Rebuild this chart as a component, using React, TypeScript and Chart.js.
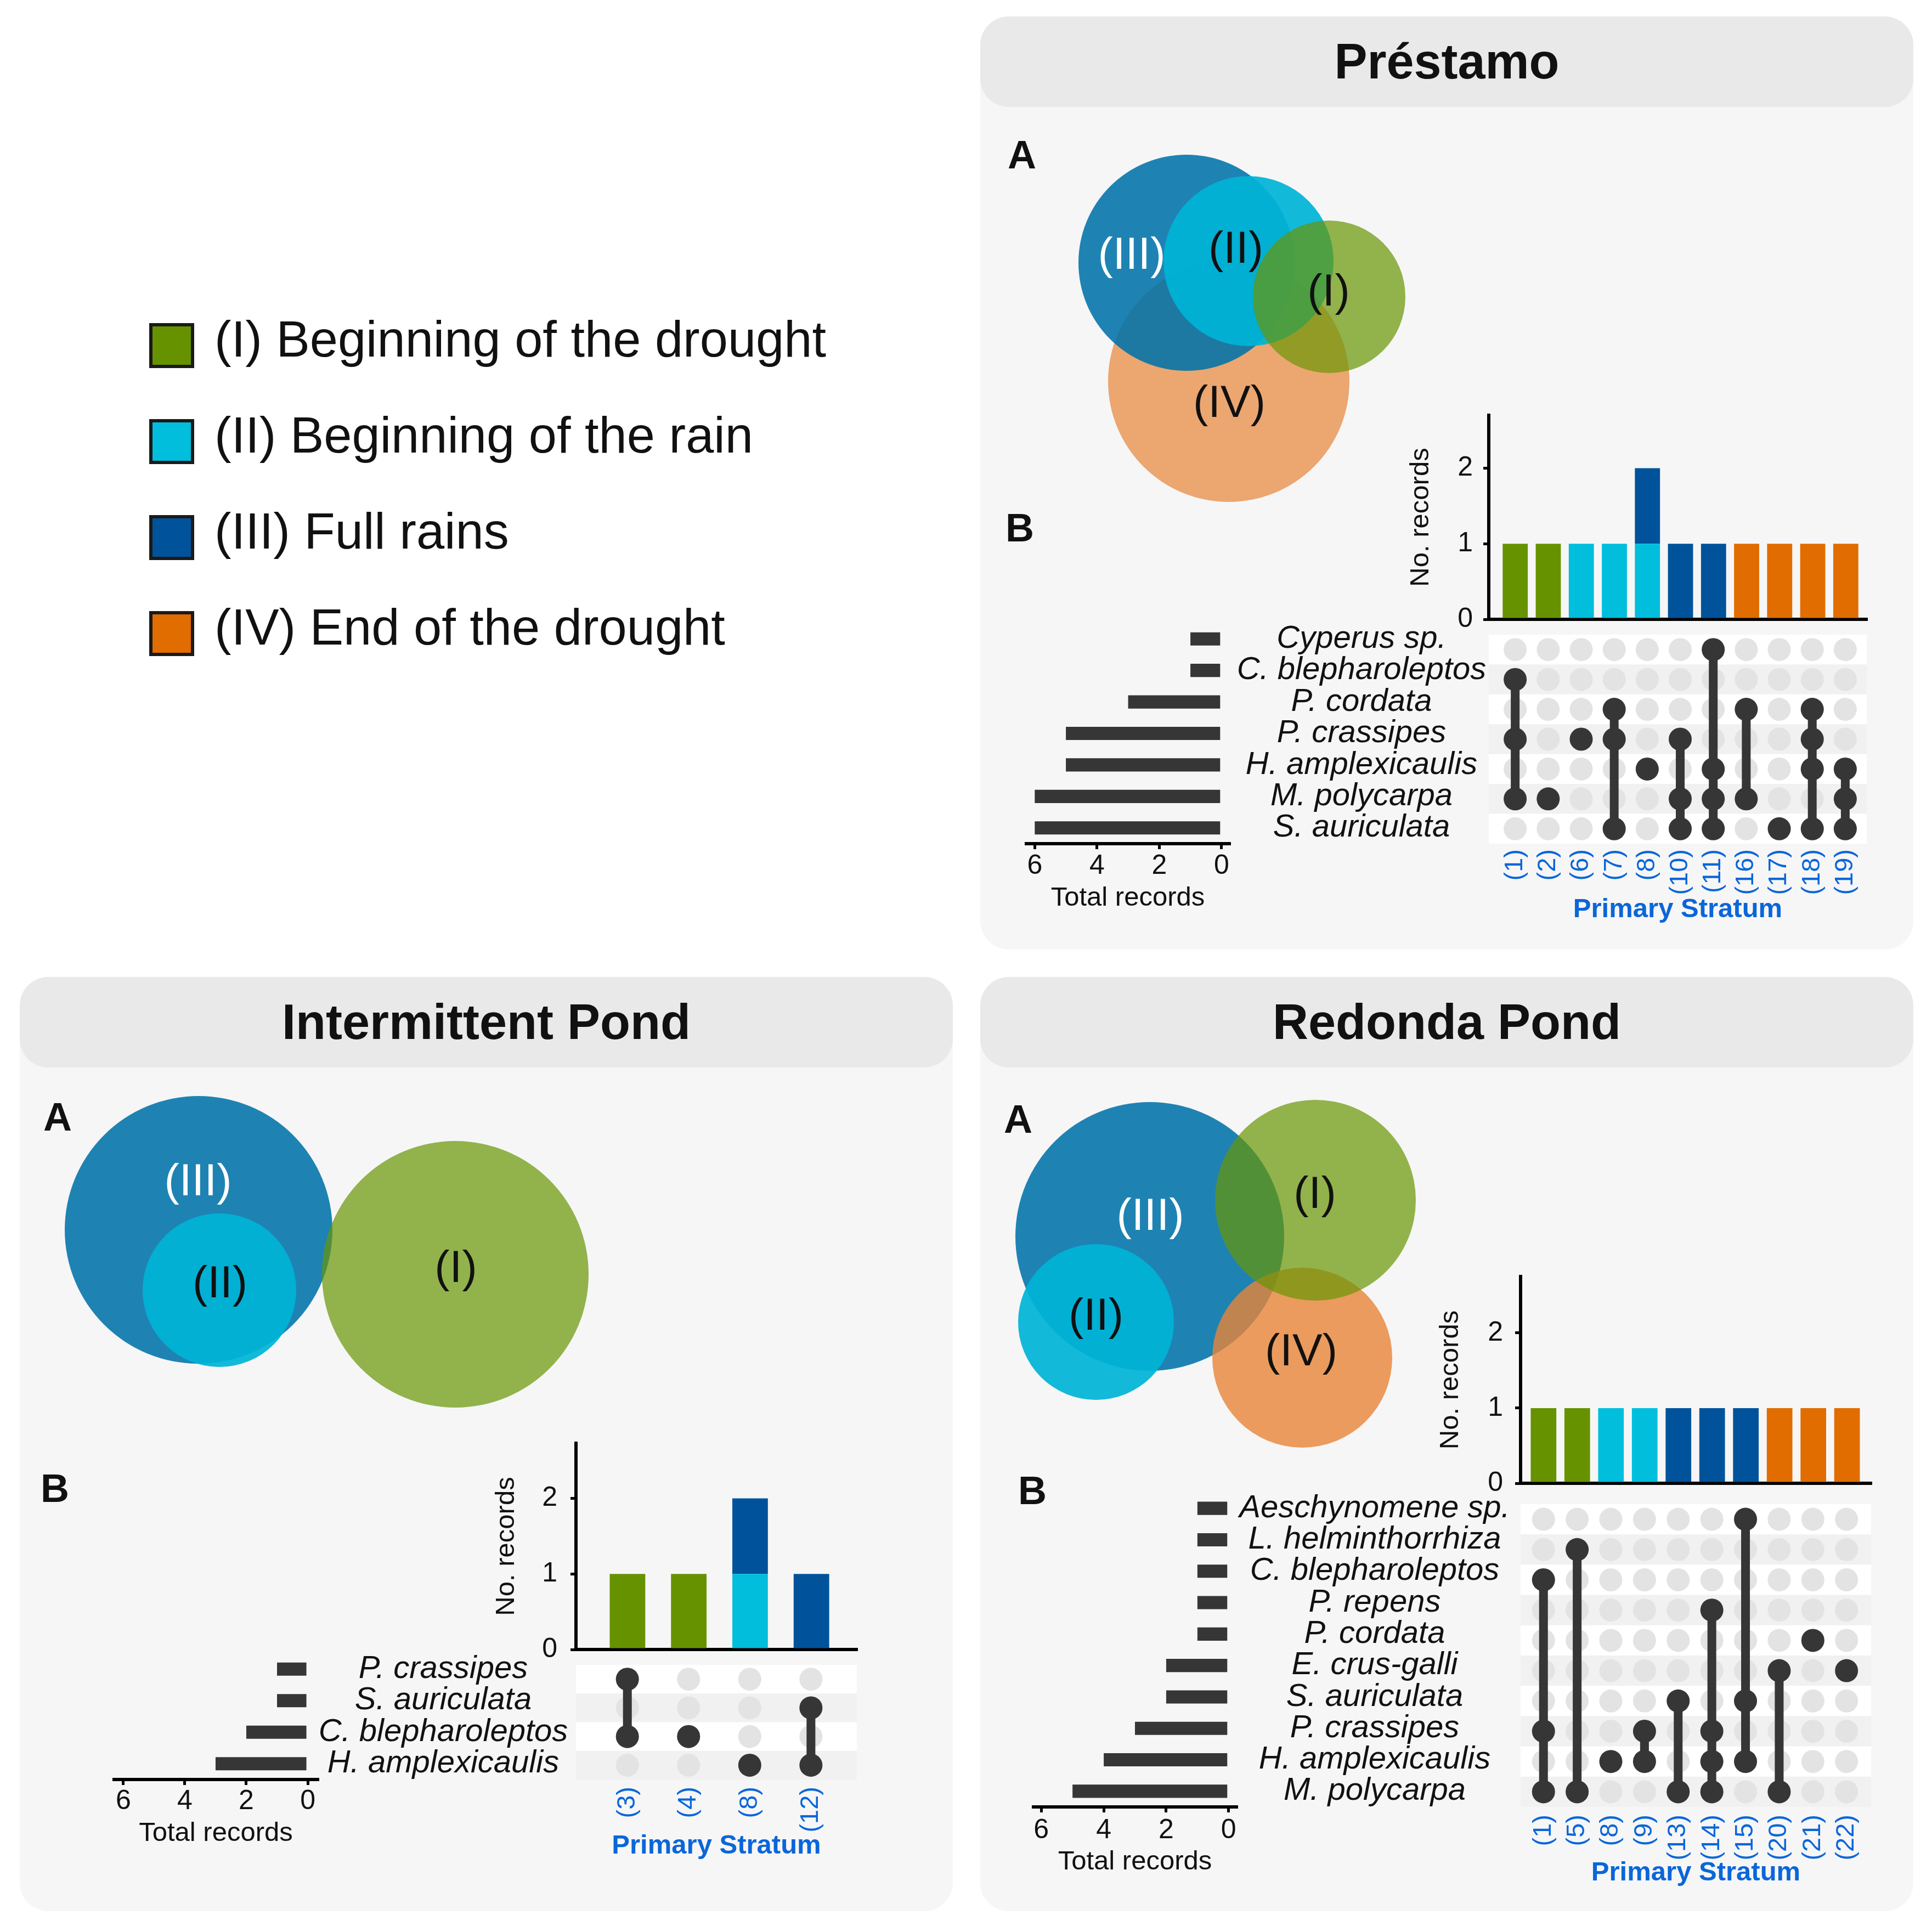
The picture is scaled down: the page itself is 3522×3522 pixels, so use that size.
import React, { useEffect, useRef } from 'react';
import { Chart, registerables } from 'chart.js';

Chart.register(...registerables);

const FONT = "'Liberation Sans', Arial, Helvetica, sans-serif";
Chart.defaults.font.family = FONT;
Chart.defaults.color = '#111111';

/* ===================== DATA ===================== */
const phaseNames = [
  '(I) Beginning of the drought',
  '(II) Beginning of the rain',
  '(III) Full rains',
  '(IV) End of the drought',
];
const recordTicks = [0, 1, 2];
const totalTicks = [0, 2, 4, 6];

// --- Préstamo ---
const prestamoSpecies = ['Cyperus sp.', 'C. blepharoleptos', 'P. cordata', 'P. crassipes', 'H. amplexicaulis', 'M. polycarpa', 'S. auriculata'];
const prestamoTotals = [1, 1, 3, 5, 5, 6, 6];
const prestamoStrata = ['(1)', '(2)', '(6)', '(7)', '(8)', '(10)', '(11)', '(16)', '(17)', '(18)', '(19)'];
const prestamoPhaseI = [1, 1, 0, 0, 0, 0, 0, 0, 0, 0, 0];
const prestamoPhaseII = [0, 0, 1, 1, 1, 0, 0, 0, 0, 0, 0];
const prestamoPhaseIII = [0, 0, 0, 0, 1, 1, 1, 0, 0, 0, 0];
const prestamoPhaseIV = [0, 0, 0, 0, 0, 0, 0, 1, 1, 1, 1];
const prestamoMembers = [[1, 3, 5], [5], [3], [2, 3, 6], [4], [3, 5, 6], [0, 4, 5, 6], [2, 5], [6], [2, 3, 4, 6], [4, 5, 6]];
const prestamoVennSets = ['(IV)', '(III)', '(II)', '(I)'];
const prestamoVennX = [453, 376, 489, 636];
const prestamoVennY = [665, 449, 446, 511];
const prestamoVennR = [220, 197, 155, 139];
const prestamoVennLabelX = [454, 276, 466, 635];
const prestamoVennLabelY = [709, 439, 428, 506];

// --- Intermittent Pond ---
const intermSpecies = ['P. crassipes', 'S. auriculata', 'C. blepharoleptos', 'H. amplexicaulis'];
const intermTotals = [1, 1, 2, 3];
const intermStrata = ['(3)', '(4)', '(8)', '(12)'];
const intermPhaseI = [1, 1, 0, 0];
const intermPhaseII = [0, 0, 1, 0];
const intermPhaseIII = [0, 0, 1, 1];
const intermPhaseIV = [0, 0, 0, 0];
const intermMembers = [[0, 2], [2], [3], [1, 3]];
const intermVennSets = ['(III)', '(II)', '(I)'];
const intermVennX = [326, 364, 794];
const intermVennY = [461, 571, 542];
const intermVennR = [244, 140, 243];
const intermVennLabelX = [325, 365, 795];
const intermVennLabelY = [377, 563, 535];

// --- Redonda Pond ---
const redondaSpecies = ['Aeschynomene sp.', 'L. helminthorrhiza', 'C. blepharoleptos', 'P. repens', 'P. cordata', 'E. crus-galli', 'S. auriculata', 'P. crassipes', 'H. amplexicaulis', 'M. polycarpa'];
const redondaTotals = [1, 1, 1, 1, 1, 2, 2, 3, 4, 5];
const redondaStrata = ['(1)', '(5)', '(8)', '(9)', '(13)', '(14)', '(15)', '(20)', '(21)', '(22)'];
const redondaPhaseI = [1, 1, 0, 0, 0, 0, 0, 0, 0, 0];
const redondaPhaseII = [0, 0, 1, 1, 0, 0, 0, 0, 0, 0];
const redondaPhaseIII = [0, 0, 0, 0, 1, 1, 1, 0, 0, 0];
const redondaPhaseIV = [0, 0, 0, 0, 0, 0, 0, 1, 1, 1];
const redondaMembers = [[2, 7, 9], [1, 9], [8], [7, 8], [6, 9], [3, 7, 8, 9], [0, 6, 8], [5, 9], [4], [5]];
const redondaVennSets = ['(III)', '(II)', '(IV)', '(I)'];
const redondaVennX = [309, 211, 587, 611];
const redondaVennY = [473, 629, 694, 407];
const redondaVennR = [245, 142, 164, 183];
const redondaVennLabelX = [310, 211, 585, 610];
const redondaVennLabelY = [440, 622, 687, 400];

/* ===================== STYLE ===================== */
const PHASE_COLORS = ['#679200', '#00BEDC', '#00539B', '#E16C00'];
const VENN_FILL: Record<string, string> = {
  '(I)': 'rgba(104,149,4,0.7)',
  '(II)': 'rgba(0,180,214,0.93)',
  '(III)': 'rgba(0,115,170,0.88)',
  '(IV)': 'rgba(232,132,55,0.7)',
};
const VENN_TEXT: Record<string, string> = { '(I)': '#111111', '(II)': '#111111', '(III)': '#ffffff', '(IV)': '#111111' };
const DARK = '#363636';
const LIGHT_DOT = '#e3e3e3';
const BLUE = '#0a66d9';
const ROW_EVEN = '#ffffff';
const ROW_ODD = '#f1f1f1';
const PANEL_BG = '#f6f6f6';
const HEADER_BG = '#e9e9e9';
const AXIS_FONT = 49;
const TICK_FONT = 50;
const SPECIES_FONT = 58;
const STRATA_FONT = 47;
const VENN_LABEL_FONT = 82;
const DOT_R = 21;
const LINK_W = 16;
const LH = (s: number) => s * 1.2;

interface PanelData {
  title: string;
  species: string[];
  totals: number[];
  strata: string[];
  phases: number[][];
  members: number[][];
  vennSets: string[];
  vennX: number[];
  vennY: number[];
  vennR: number[];
  vennLabelX: number[];
  vennLabelY: number[];
}

interface PanelLayout {
  x: number; y: number; w: number; h: number;
  a: [number, number]; b: [number, number];
  barLeft: number; barRight: number; barTop: number; barBottom: number;
  yMax: number; colMin: number; colMax: number; barPct: number;
  yTitleX: number; yTickRight: number;
  matTop: number; matBottom: number; colLabelTop: number; colTitleY: number;
  totLeft: number; totRight: number; totMin: number; totMax: number;
  totTickY: number; totTitleY: number; speciesCenter: number;
  ivFill?: string;
}

const prestamo: PanelData = {
  title: 'Préstamo', species: prestamoSpecies, totals: prestamoTotals, strata: prestamoStrata,
  phases: [prestamoPhaseI, prestamoPhaseII, prestamoPhaseIII, prestamoPhaseIV], members: prestamoMembers,
  vennSets: prestamoVennSets, vennX: prestamoVennX, vennY: prestamoVennY, vennR: prestamoVennR,
  vennLabelX: prestamoVennLabelX, vennLabelY: prestamoVennLabelY,
};
const interm: PanelData = {
  title: 'Intermittent Pond', species: intermSpecies, totals: intermTotals, strata: intermStrata,
  phases: [intermPhaseI, intermPhaseII, intermPhaseIII, intermPhaseIV], members: intermMembers,
  vennSets: intermVennSets, vennX: intermVennX, vennY: intermVennY, vennR: intermVennR,
  vennLabelX: intermVennLabelX, vennLabelY: intermVennLabelY,
};
const redonda: PanelData = {
  title: 'Redonda Pond', species: redondaSpecies, totals: redondaTotals, strata: redondaStrata,
  phases: [redondaPhaseI, redondaPhaseII, redondaPhaseIII, redondaPhaseIV], members: redondaMembers,
  vennSets: redondaVennSets, vennX: redondaVennX, vennY: redondaVennY, vennR: redondaVennR,
  vennLabelX: redondaVennLabelX, vennLabelY: redondaVennLabelY,
};

const prestamoLayout: PanelLayout = {
  x: 1787, y: 30, w: 1701, h: 1701, a: [1837, 255], b: [1833, 935],
  barLeft: 2714, barRight: 3404, barTop: 757, barBottom: 1129,
  yMax: 2.7, colMin: -0.8, colMax: 10.65, barPct: 0.76, yTitleX: 2590, yTickRight: 2685,
  matTop: 1136, matBottom: 1538, colLabelTop: 1548, colTitleY: 1659,
  totLeft: 1871, totRight: 2241, totMin: -0.25, totMax: 6.27, totTickY: 1579, totTitleY: 1638, speciesCenter: 2482,
};
const intermLayout: PanelLayout = {
  x: 36, y: 1781, w: 1701, h: 1703, a: [79, 2009], b: [74, 2686],
  barLeft: 1050, barRight: 1563, barTop: 2631, barBottom: 3007,
  yMax: 2.73, colMin: -0.84, colMax: 3.75, barPct: 0.58, yTitleX: 923, yTickRight: 1016,
  matTop: 3014, matBottom: 3244, colLabelTop: 3257, colTitleY: 3366,
  totLeft: 208, totRight: 579, totMin: -0.32, totMax: 6.3, totTickY: 3283, totTitleY: 3343, speciesCenter: 808,
};
const redondaLayout: PanelLayout = {
  x: 1787, y: 1781, w: 1701, h: 1703, a: [1830, 2013], b: [1856, 2690],
  barLeft: 2772, barRight: 3412, barTop: 2327, barBottom: 2704,
  yMax: 2.75, colMin: -0.68, colMax: 9.73, barPct: 0.76, yTitleX: 2644, yTickRight: 2740,
  matTop: 2721, matBottom: 3294, colLabelTop: 3308, colTitleY: 3415,
  totLeft: 1884, totRight: 2254, totMin: -0.25, totMax: 6.25, totTickY: 3337, totTitleY: 3395, speciesCenter: 2506,
  ivFill: 'rgba(232,132,55,0.8)',
};

/* ===================== HELPERS ===================== */
function zeroPad(s: any) {
  s.paddingLeft = 0; s.paddingRight = 0; s.paddingTop = 0; s.paddingBottom = 0;
}

function measureWidest(labels: string[], font: string) {
  const c = document.createElement('canvas').getContext('2d')!;
  c.font = font;
  return Math.max(...labels.map((l) => c.measureText(l).width));
}

type Rect = { x: number; y: number; w: number; h: number };

function ChartCanvas({ rect, make }: { rect: Rect; make: () => any }) {
  const ref = useRef<HTMLCanvasElement | null>(null);
  useEffect(() => {
    if (!ref.current) return;
    const chart = new Chart(ref.current, make());
    return () => chart.destroy();
  }, []);
  return (
    <canvas
      ref={ref}
      width={rect.w}
      height={rect.h}
      style={{ position: 'absolute', left: rect.x, top: rect.y, width: rect.w, height: rect.h }}
    />
  );
}

const baseOptions = {
  animation: false,
  responsive: false,
  events: [],
  plugins: { legend: { display: false }, tooltip: { enabled: false } },
};

function vennConfig(d: PanelData, L: PanelLayout, w: number, h: number) {
  const fills = d.vennSets.map((s) => (s === '(IV)' && L.ivFill ? L.ivFill : VENN_FILL[s]));
  const radiusPx = (c: any) => {
    const sx = c.chart.scales.x;
    const r = d.vennR[c.dataIndex] ?? 0;
    return Math.abs(sx.getPixelForValue(r) - sx.getPixelForValue(0));
  };
  const labelPlugin = {
    id: 'vennLabels',
    afterDatasetsDraw(chart: any) {
      const { ctx, scales } = chart;
      ctx.save();
      ctx.font = `${VENN_LABEL_FONT}px ${FONT}`;
      ctx.textAlign = 'center';
      ctx.textBaseline = 'alphabetic';
      d.vennSets.forEach((s, i) => {
        ctx.fillStyle = VENN_TEXT[s];
        ctx.fillText(
          s,
          scales.x.getPixelForValue(d.vennLabelX[i]),
          scales.y.getPixelForValue(d.vennLabelY[i]) + VENN_LABEL_FONT * 0.26,
        );
      });
      ctx.restore();
    },
  };
  return {
    type: 'scatter',
    data: {
      datasets: [
        {
          data: d.vennX.map((x, i) => ({ x, y: d.vennY[i] })),
          pointRadius: radiusPx,
          pointHoverRadius: radiusPx,
          pointBackgroundColor: fills,
          pointBorderWidth: 0,
          clip: false,
        },
      ],
    },
    options: {
      ...baseOptions,
      layout: { padding: 0 },
      scales: {
        x: { type: 'linear', min: 0, max: w, display: false },
        y: { type: 'linear', min: 0, max: h, reverse: true, display: false },
      },
    },
    plugins: [labelPlugin],
  };
}

function barConfig(d: PanelData, L: PanelLayout, canvasLeft: number) {
  return {
    type: 'bar',
    data: {
      datasets: d.phases.map((vals, p) => ({
        label: phaseNames[p],
        data: vals.map((v, i) => ({ x: i, y: v > 0 ? v : null })),
        backgroundColor: PHASE_COLORS[p],
        borderWidth: 0,
        barPercentage: L.barPct,
        categoryPercentage: 1,
      })),
    },
    options: {
      ...baseOptions,
      layout: { padding: { left: 0, top: 20, right: 20, bottom: 40 } },
      scales: {
        x: {
          type: 'linear', stacked: true, offset: false, min: L.colMin, max: L.colMax,
          afterBuildTicks: (s: any) => { s.ticks = d.strata.map((_, i) => ({ value: i })); },
          grid: { display: false, drawTicks: false },
          ticks: { display: false },
          border: { display: true, color: '#000000', width: 6 },
          afterFit: (s: any) => { s.height = 0; zeroPad(s); },
        },
        y: {
          type: 'linear', stacked: true, min: 0, max: L.yMax,
          afterBuildTicks: (s: any) => { s.ticks = recordTicks.map((v) => ({ value: v })); },
          ticks: { font: { size: TICK_FONT }, color: '#111111', padding: L.barLeft - 10 - L.yTickRight },
          grid: { display: true, drawOnChartArea: false, drawTicks: true, tickLength: 10, color: '#000000', lineWidth: 5 },
          border: { display: true, color: '#000000', width: 6 },
          title: { display: true, text: 'No. records', font: { size: AXIS_FONT }, color: '#111111', padding: { top: 0, bottom: 0 } },
          afterFit: (s: any) => { s.width = L.barLeft - canvasLeft; zeroPad(s); },
        },
      },
    },
  };
}

function matrixConfig(d: PanelData, L: PanelLayout, canvasBottom: number) {
  const n = d.species.length;
  const shading = {
    id: 'rowShading',
    beforeDatasetsDraw(chart: any) {
      const { ctx, chartArea: a, scales } = chart;
      ctx.save();
      for (let i = 0; i < n; i++) {
        const y0 = scales.y.getPixelForValue(i - 0.5);
        const y1 = scales.y.getPixelForValue(i + 0.5);
        ctx.fillStyle = i % 2 === 0 ? ROW_EVEN : ROW_ODD;
        ctx.fillRect(a.left, Math.min(y0, y1), a.right - a.left, Math.abs(y1 - y0));
      }
      ctx.restore();
    },
  };
  const gridPts: { x: number; y: number }[] = [];
  d.strata.forEach((_, c) => d.species.forEach((_, r) => gridPts.push({ x: c, y: r })));
  return {
    type: 'scatter',
    data: {
      datasets: [
        ...d.members.map((m, c) => ({
          data: m.map((r) => ({ x: c, y: r })),
          showLine: true,
          borderColor: DARK,
          borderWidth: LINK_W,
          pointRadius: DOT_R,
          pointBackgroundColor: DARK,
          pointBorderWidth: 0,
          order: 1,
        })),
        {
          data: gridPts,
          pointRadius: DOT_R,
          pointBackgroundColor: LIGHT_DOT,
          pointBorderWidth: 0,
          order: 2,
        },
      ],
    },
    options: {
      ...baseOptions,
      layout: { padding: { left: 40, right: 20, top: 0, bottom: 0 } },
      scales: {
        x: {
          type: 'linear', min: L.colMin, max: L.colMax, offset: false,
          afterBuildTicks: (s: any) => { s.ticks = d.strata.map((_, i) => ({ value: i })); },
          ticks: {
            autoSkip: false, minRotation: 90, maxRotation: 90,
            padding: L.colLabelTop - L.matBottom,
            color: BLUE, font: { size: STRATA_FONT },
            callback: (_v: any, i: number) => d.strata[i],
          },
          grid: { display: false, drawTicks: false },
          border: { display: false },
          title: { display: true, text: 'Primary Stratum', color: BLUE, font: { size: AXIS_FONT, weight: 'bold' }, padding: { top: 0, bottom: 0 } },
          afterFit: (s: any) => { s.height = canvasBottom - L.matBottom; zeroPad(s); },
        },
        y: { type: 'linear', min: -0.5, max: n - 0.5, reverse: true, display: false },
      },
    },
    plugins: [shading],
  };
}

function totalsConfig(d: PanelData, L: PanelLayout, canvasBottom: number) {
  const widest = measureWidest(d.species, `italic ${SPECIES_FONT}px ${FONT}`);
  const labelPad = Math.max(0, L.speciesCenter - L.totRight - widest / 2);
  return {
    type: 'bar',
    data: {
      labels: d.species,
      datasets: [
        { data: d.totals, backgroundColor: DARK, borderWidth: 0, barPercentage: 0.42, categoryPercentage: 1 },
      ],
    },
    options: {
      ...baseOptions,
      indexAxis: 'y',
      layout: { padding: { left: 30, top: 10, right: 0, bottom: 0 } },
      scales: {
        x: {
          type: 'linear', reverse: true, min: L.totMin, max: L.totMax, position: 'bottom',
          afterBuildTicks: (s: any) => { s.ticks = totalTicks.map((v) => ({ value: v })); },
          ticks: { font: { size: TICK_FONT }, color: '#111111', padding: Math.max(0, L.totTickY - L.matBottom - 10 - LH(TICK_FONT) / 2) },
          grid: { display: true, drawOnChartArea: false, drawTicks: true, tickLength: 10, color: '#000000', lineWidth: 5 },
          border: { display: true, color: '#000000', width: 6 },
          title: { display: true, text: 'Total records', font: { size: AXIS_FONT }, color: '#111111', padding: { top: 0, bottom: 0 } },
          afterFit: (s: any) => { s.height = canvasBottom - L.matBottom; zeroPad(s); },
        },
        y: {
          type: 'category', position: 'right', offset: true,
          grid: { display: false, drawTicks: false },
          border: { display: false },
          ticks: { autoSkip: false, crossAlign: 'center', font: { size: SPECIES_FONT, style: 'italic' }, color: '#111111', padding: labelPad },
          afterFit: (s: any) => { s.width = L.barLeft - L.totRight; zeroPad(s); },
        },
      },
    },
  };
}

/* ===================== COMPONENTS ===================== */
function Legend() {
  const top0 = 630;
  const step = 175;
  return (
    <>
      {phaseNames.map((name, i) => {
        const cy = top0 + i * step;
        return (
          <React.Fragment key={name}>
            <div
              style={{
                position: 'absolute', left: 272, top: cy - 41, width: 82, height: 82,
                boxSizing: 'border-box', border: '6px solid #1a1a1a', background: PHASE_COLORS[i],
              }}
            />
            <div
              style={{
                position: 'absolute', left: 391, top: cy + 20 - 78, fontFamily: FONT, fontSize: 92,
                lineHeight: '92px', whiteSpace: 'nowrap', color: '#111111',
              }}
            >
              {name}
            </div>
          </React.Fragment>
        );
      })}
    </>
  );
}

function Letter({ text, pos }: { text: string; pos: [number, number] }) {
  return (
    <div
      style={{
        position: 'absolute', left: pos[0], top: pos[1] - 9.5, fontFamily: FONT, fontWeight: 'bold',
        fontSize: 72, lineHeight: '72px', color: '#111111',
      }}
    >
      {text}
    </div>
  );
}

function Panel({ d, L }: { d: PanelData; L: PanelLayout }) {
  const barCanvasLeft = Math.round(L.yTitleX - LH(AXIS_FONT) / 2);
  const barRect: Rect = { x: barCanvasLeft, y: L.barTop - 20, w: L.barRight + 20 - barCanvasLeft, h: L.barBottom + 40 - (L.barTop - 20) };
  const matCanvasBottom = Math.round(L.colTitleY + LH(AXIS_FONT) / 2);
  const matRect: Rect = { x: L.barLeft - 40, y: L.matTop, w: L.barRight + 20 - (L.barLeft - 40), h: matCanvasBottom - L.matTop };
  const totCanvasBottom = Math.round(L.totTitleY + LH(AXIS_FONT) / 2);
  const totRect: Rect = { x: L.totLeft - 30, y: L.matTop - 10, w: L.barLeft - (L.totLeft - 30), h: totCanvasBottom - (L.matTop - 10) };
  const vennRect: Rect = { x: L.x, y: L.y, w: 1100, h: 950 };
  return (
    <>
      <div style={{ position: 'absolute', left: L.x, top: L.y, width: L.w, height: L.h, background: PANEL_BG, borderRadius: 52 }} />
      <div
        style={{
          position: 'absolute', left: L.x, top: L.y, width: L.w, height: 165, background: HEADER_BG, borderRadius: 52,
          display: 'flex', alignItems: 'center', justifyContent: 'center', fontFamily: FONT, fontWeight: 'bold',
          fontSize: 90, color: '#111111', whiteSpace: 'nowrap',
        }}
      >
        {d.title}
      </div>
      <Letter text="A" pos={L.a} />
      <Letter text="B" pos={L.b} />
      <ChartCanvas rect={vennRect} make={() => vennConfig(d, L, vennRect.w, vennRect.h)} />
      <ChartCanvas rect={totRect} make={() => totalsConfig(d, L, totRect.y + totRect.h)} />
      <ChartCanvas rect={matRect} make={() => matrixConfig(d, L, matRect.y + matRect.h)} />
      <ChartCanvas rect={barRect} make={() => barConfig(d, L, barCanvasLeft)} />
    </>
  );
}

export default function App() {
  return (
    <div
      style={{
        position: 'absolute', left: 0, top: 0, width: 3522, height: 3522, background: '#ffffff',
        overflow: 'hidden', fontFamily: FONT,
      }}
    >
      <Legend />
      <Panel d={prestamo} L={prestamoLayout} />
      <Panel d={interm} L={intermLayout} />
      <Panel d={redonda} L={redondaLayout} />
    </div>
  );
}
